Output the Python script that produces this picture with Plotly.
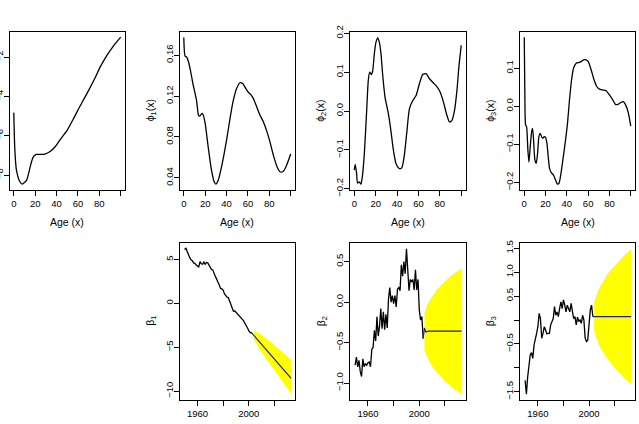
import plotly.graph_objects as go

# ---------------- data ----------------
age_mu = [0, 1, 2.5, 5.7, 8, 12, 15, 18, 21, 24.5, 29, 34, 38.7, 43, 50, 56, 62, 68.5, 75, 81, 87.4, 94, 100]
mu = [-4.82, -6.73, -7.75, -8.34, -8.46, -8.26, -7.66, -7.10, -6.95, -6.95, -6.93, -6.80, -6.56, -6.22,
      -5.71, -5.11, -4.48, -3.84, -3.16, -2.48, -1.88, -1.37, -0.98]

age_phi1 = [0, 1.25, 2.5, 4.4, 6.25, 8.75, 11.9, 13.75, 15, 16.9, 18, 20, 22.8, 25.9, 28.4, 30, 32.2, 35.3,
            40, 43, 46, 49.4, 52.5, 55, 57.5, 60, 62.5, 65, 68, 71, 74.4, 77.5, 80.6, 83.75, 87, 90, 92.5,
            95.6, 100]
phi1 = [0.1773, 0.159, 0.1584, 0.1535, 0.145, 0.131, 0.116, 0.1014, 0.1004, 0.103, 0.102, 0.0932, 0.0704,
        0.0476, 0.0362, 0.034, 0.0378, 0.0509, 0.077, 0.0965, 0.1144, 0.1274, 0.133, 0.1323, 0.1283,
        0.1242, 0.1216, 0.1177, 0.110, 0.102, 0.0949, 0.086, 0.0753, 0.0623, 0.0515, 0.046, 0.046, 0.051,
        0.0633]

age_phi2 = [0, 0.9, 2.2, 3.1, 4.7, 6.25, 7.5, 9.4, 11.6, 13.1, 14.4, 15.9, 17.2, 18.75, 20.3, 21.9, 23.4,
            25, 26.6, 28.75, 31.9, 34, 36.6, 39, 42.2, 44.4, 46.6, 49, 51.6, 54.7, 57.8, 60.9, 64, 67.2,
            70.3, 74, 77.2, 80.3, 83.4, 86.6, 89, 91.25, 93.75, 96, 97.8, 100]
phi2 = [-0.152, -0.137, -0.161, -0.185, -0.182, -0.188, -0.170, -0.110, 0.002, 0.079, 0.100, 0.094, 0.103,
        0.147, 0.177, 0.188, 0.177, 0.147, 0.092, 0.036, -0.007, -0.045, -0.101, -0.135, -0.148, -0.146,
        -0.118, -0.058, 0.006, 0.027, 0.040, 0.070, 0.094, 0.096, 0.083, 0.072, 0.063, 0.049, 0.023,
        -0.011, -0.028, -0.024, 0.002, 0.053, 0.113, 0.169]

age_phi3 = [0, 0.6, 1.25, 2.2, 3.4, 4.4, 5.6, 6.9, 7.8, 8.75, 10, 11.25, 12.5, 13.75, 15, 16.25, 17.5,
            18.75, 20, 21.25, 22.5, 23.75, 25.6, 27.5, 29.4, 31, 32.5, 34, 36.25, 38.75, 40.6, 42.5, 44.4,
            46.25, 48.75, 51.25, 53.75, 55.6, 58.1, 60, 61.9, 63.75, 65.6, 68.1, 70.6, 73.75, 76.9, 80,
            83.1, 85.6, 88.1, 90.6, 93.1, 95.6, 97.8, 100]
phi3 = [0.1816, 0.017, -0.049, -0.054, -0.115, -0.147, -0.106, -0.067, -0.058, -0.089, -0.141, -0.150,
        -0.124, -0.080, -0.071, -0.080, -0.084, -0.080, -0.082, -0.097, -0.132, -0.163, -0.175, -0.181,
        -0.194, -0.204, -0.203, -0.185, -0.141, -0.089, -0.045, 0.017, 0.069, 0.100, 0.113, 0.115, 0.118,
        0.122, 0.122, 0.118, 0.104, 0.087, 0.069, 0.052, 0.045, 0.043, 0.041, 0.030, 0.017, 0.005, 0.005,
        0.010, 0.012, 0.001, -0.018, -0.052]

years_obs = list(range(1950, 2004))
years_fc = list(range(2004, 2034))

beta1 = [6.1, 6.3, 5.9, 5.5, 5.2, 4.95, 4.85, 4.6, 4.55, 4.35, 4.2, 4.15, 4.75, 4.5, 4.45, 4.7, 4.45, 4.65,
         4.6, 4.4, 4.1, 3.85, 3.8, 3.4, 3.0, 2.7, 2.4, 2.1, 1.7, 1.65, 1.5, 1.1, 0.9, 0.7, 0.65, 0.3, -0.1,
         -0.4, -0.9, -0.85, -1.0, -1.2, -1.3, -1.5, -1.6, -1.8, -2.0, -2.3, -2.5, -2.8, -3.1, -3.3, -3.35,
         -3.5]
beta1_fc = [-3.67, -3.84, -4.00, -4.17, -4.34, -4.51, -4.68, -4.85, -5.01, -5.18, -5.35, -5.52, -5.69,
            -5.86, -6.02, -6.19, -6.36, -6.53, -6.70, -6.87, -7.03, -7.20, -7.37, -7.54, -7.71, -7.88,
            -8.04, -8.21, -8.38, -8.55]
beta1_hi = [-3.17, -3.19, -3.24, -3.31, -3.40, -3.49, -3.59, -3.70, -3.80, -3.91, -4.02, -4.14, -4.26,
            -4.38, -4.50, -4.62, -4.75, -4.87, -5.00, -5.13, -5.25, -5.39, -5.52, -5.65, -5.79, -5.92,
            -6.05, -6.18, -6.32, -6.46]
beta1_lo = [-4.11, -4.40, -4.65, -4.90, -5.14, -5.37, -5.60, -5.82, -6.03, -6.25, -6.46, -6.68, -6.89,
            -7.10, -7.29, -7.50, -7.71, -7.91, -8.11, -8.32, -8.51, -8.71, -8.91, -9.11, -9.31, -9.51,
            -9.70, -9.90, -10.09, -10.29]

beta2 = [-0.78, -0.68, -0.80, -0.72, -0.86, -0.92, -0.70, -0.80, -0.76, -0.78, -0.75, -0.74, -0.80, -0.58,
         -0.56, -0.35, -0.48, -0.18, -0.42, -0.30, -0.08, -0.33, -0.12, -0.34, -0.15, -0.32, 0.04, 0.18,
         0.00, 0.08, -0.02, 0.08, -0.06, 0.16, 0.18, 0.14, 0.46, 0.32, 0.50, 0.35, 0.66, 0.40, 0.14, 0.28,
         0.25, 0.28, 0.15, 0.40, 0.15, 0.28, -0.10, -0.22, -0.18, -0.45]
beta2_fc = [-0.32, -0.37, -0.36, -0.36, -0.36, -0.36, -0.36, -0.36, -0.36, -0.36, -0.36, -0.36, -0.36,
            -0.36, -0.36, -0.36, -0.36, -0.36, -0.36, -0.36, -0.36, -0.36, -0.36, -0.36, -0.36, -0.36,
            -0.36, -0.36, -0.36, -0.36]
beta2_hi = [-0.14, -0.08, -0.04, -0.01, 0.02, 0.05, 0.07, 0.09, 0.12, 0.14, 0.16, 0.17, 0.19, 0.21, 0.22,
            0.24, 0.26, 0.27, 0.29, 0.30, 0.31, 0.33, 0.34, 0.35, 0.37, 0.38, 0.39, 0.40, 0.41, 0.43]
beta2_lo = [-0.59, -0.64, -0.68, -0.71, -0.74, -0.77, -0.79, -0.81, -0.84, -0.86, -0.88, -0.89, -0.91,
            -0.93, -0.94, -0.96, -0.98, -0.99, -1.01, -1.02, -1.03, -1.05, -1.06, -1.07, -1.09, -1.10,
            -1.11, -1.12, -1.13, -1.15]

beta3 = [-1.26, -1.55, -1.19, -0.91, -0.73, -0.68, -0.80, -0.52, -0.42, -0.28, -0.14, 0.14, 0.03, -0.38,
         -0.28, -0.14, -0.21, -0.29, -0.28, -0.28, -0.10, -0.01, 0.03, 0.28, 0.10, 0.17, 0.07, 0.24, 0.38,
         0.24, 0.42, 0.31, 0.17, 0.31, 0.24, 0.17, 0.35, 0.14, 0.03, 0.07, -0.10, 0.06, -0.03, 0.00, -0.07,
         0.10, 0.00, -0.38, -0.45, -0.42, -0.10, 0.21, 0.31, 0.07]
beta3_fc = [0.07] * 30
beta3_hi = [0.36, 0.46, 0.54, 0.61, 0.67, 0.72, 0.77, 0.82, 0.86, 0.90, 0.94, 0.98, 1.01, 1.05, 1.08, 1.11,
            1.14, 1.17, 1.20, 1.23, 1.26, 1.28, 1.31, 1.34, 1.36, 1.39, 1.41, 1.43, 1.46, 1.48]
beta3_lo = [-0.22, -0.32, -0.40, -0.47, -0.53, -0.58, -0.63, -0.68, -0.72, -0.76, -0.80, -0.84, -0.87,
            -0.91, -0.94, -0.97, -1.00, -1.03, -1.06, -1.09, -1.12, -1.14, -1.17, -1.20, -1.22, -1.25,
            -1.27, -1.29, -1.32, -1.34]

# tick labels
age_ticks = [0, 20, 40, 60, 80]
age_text = ["0", "20", "40", "60", "80"]
age_minor = [100]
yr_ticks = [1960, 2000]
yr_text = ["1960", "2000"]
yr_minor = [1980, 2020]

# ---------------- figure ----------------
W, H = 639, 424
FONT = "Liberation Sans, Arial, sans-serif"
TICKFS = 9.5
TITLEFS = 10.5
FC_COLOR = "#1f1f9a"

def px(x):
    return x / W

def py(y):
    return 1 - y / H

xdom = [(9.5, 125.0), (179.5, 295.0), (350.0, 465.5), (520.0, 635.0)]
ytop = (31.7, 190.0)
ybot = (242.7, 400.0)

fig = go.Figure()
layout = {}

def add_axes(i, xd, yd, xr, yr, xtv, xtt, xminor, ytv, ytt, yminor=None):
    xa = "xaxis" if i == 1 else f"xaxis{i}"
    ya = "yaxis" if i == 1 else f"yaxis{i}"
    common = dict(showline=True, linecolor="black", linewidth=1, mirror=True, ticks="outside",
                  ticklen=5, tickwidth=1, tickcolor="black", showgrid=False, zeroline=False,
                  automargin=False, tickfont=dict(family=FONT, size=TICKFS, color="black"))
    layout[xa] = dict(domain=[px(xd[0]), px(xd[1])], range=xr, anchor=f"y{i}" if i > 1 else "y",
                      tickmode="array", tickvals=xtv, ticktext=xtt,
                      minor=dict(tickmode="array", tickvals=xminor, ticks="outside", ticklen=5,
                                 tickwidth=1, tickcolor="black", showgrid=False),
                      **common)
    ydict = dict(domain=[py(yd[1]), py(yd[0])], range=yr, anchor=f"x{i}" if i > 1 else "x",
                 tickmode="array", tickvals=ytv, ticktext=ytt, tickangle=-90, ticklabelstandoff=-3,
                 **common)
    if yminor:
        ydict["minor"] = dict(tickmode="array", tickvals=yminor, ticks="outside", ticklen=5,
                              tickwidth=1, tickcolor="black", showgrid=False)
    layout[ya] = ydict

add_axes(1, xdom[0], ytop, [-4, 104], [-8.76, -0.70], age_ticks, age_text, age_minor,
         [-8, -6, -4, -2], ["\u22128", "\u22126", "\u22124", "\u22122"])
add_axes(2, xdom[1], ytop, [-4, 104], [0.0282, 0.1829], age_ticks, age_text, age_minor,
         [0.04, 0.08, 0.12, 0.16], ["0.04", "0.08", "0.12", "0.16"])
add_axes(3, xdom[2], ytop, [-4, 104], [-0.203, 0.204], age_ticks, age_text, age_minor,
         [-0.2, -0.1, 0.0, 0.1, 0.2], ["\u22120.2", "\u22120.1", "0.0", "0.1", "0.2"])
add_axes(4, xdom[3], ytop, [-4, 104], [-0.220, 0.196], age_ticks, age_text, age_minor,
         [-0.2, -0.1, 0.0, 0.1], ["\u22120.2", "\u22120.1", "0.0", "0.1"])
add_axes(5, xdom[1], ybot, [1946.0, 2036.0], [-11.0, 6.9], yr_ticks, yr_text, yr_minor,
         [-10, -5, 0, 5], ["\u221210", "\u22125", "0", "5"])
add_axes(6, xdom[2], ybot, [1946.0, 2036.0], [-1.21, 0.734], yr_ticks, yr_text, yr_minor,
         [-1.0, -0.5, 0.0, 0.5], ["\u22121.0", "\u22120.5", "0.0", "0.5"])
add_axes(7, xdom[3], ybot, [1946.0, 2036.0], [-1.67, 1.615], yr_ticks, yr_text, yr_minor,
         [-1.5, -0.5, 0.5, 1.0, 1.5], ["\u22121.5", "\u22120.5", "0.5", "1.0", "1.5"], [-1.0, 0.0])

def xy(i):
    return ("x", "y") if i == 1 else (f"x{i}", f"y{i}")

line_style = dict(color="black", width=1.3, shape="spline", smoothing=0.6)
for i, (ax_, ay_) in enumerate([(age_mu, mu), (age_phi1, phi1), (age_phi2, phi2), (age_phi3, phi3)], start=1):
    xa, ya = xy(i)
    fig.add_trace(go.Scatter(x=ax_, y=ay_, mode="lines", line=line_style, xaxis=xa, yaxis=ya,
                             showlegend=False, hoverinfo="skip"))

for i, (obs, fc, hi, lo) in zip([5, 6, 7], [(beta1, beta1_fc, beta1_hi, beta1_lo),
                                            (beta2, beta2_fc, beta2_hi, beta2_lo),
                                            (beta3, beta3_fc, beta3_hi, beta3_lo)]):
    xa, ya = xy(i)
    fig.add_trace(go.Scatter(x=years_fc + years_fc[::-1], y=hi + lo[::-1], fill="toself",
                             fillcolor="#FFFF00", line=dict(width=0, color="#FFFF00"), mode="lines",
                             xaxis=xa, yaxis=ya, showlegend=False, hoverinfo="skip"))
    fig.add_trace(go.Scatter(x=years_obs, y=obs, mode="lines", line=dict(color="black", width=1.3),
                             xaxis=xa, yaxis=ya, showlegend=False, hoverinfo="skip"))
    fig.add_trace(go.Scatter(x=[years_obs[-1]] + years_fc, y=[obs[-1]] + fc, mode="lines",
                             line=dict(color=FC_COLOR, width=1.2),
                             xaxis=xa, yaxis=ya, showlegend=False, hoverinfo="skip"))

annotations = []
for xd in xdom:
    annotations.append(dict(text="Age (x)", x=px((xd[0] + xd[1]) / 2), y=py(221.5), xref="paper",
                            yref="paper", showarrow=False, xanchor="center", yanchor="middle",
                            font=dict(family=FONT, size=TITLEFS, color="black")))
ylabels = [("\u03d5<sub>1</sub>(x)", 150.5, ytop), ("\u03d5<sub>2</sub>(x)", 321, ytop),
           ("\u03d5<sub>3</sub>(x)", 491, ytop),
           ("\u03b2<sub>1</sub>", 151.5, ybot), ("\u03b2<sub>2</sub>", 322, ybot), ("\u03b2<sub>3</sub>", 491, ybot)]
for txt, xpos, yd in ylabels:
    annotations.append(dict(text=txt, x=px(xpos), y=py((yd[0] + yd[1]) / 2), xref="paper", yref="paper",
                            showarrow=False, textangle=-90, xanchor="center", yanchor="middle",
                            font=dict(family=FONT, size=TITLEFS, color="black")))

fig.update_layout(template="none", width=W, height=H, margin=dict(l=0, r=0, t=0, b=0, pad=0),
                  paper_bgcolor="white", plot_bgcolor="white", showlegend=False,
                  annotations=annotations, **layout)

fig.write_html("out.html")
